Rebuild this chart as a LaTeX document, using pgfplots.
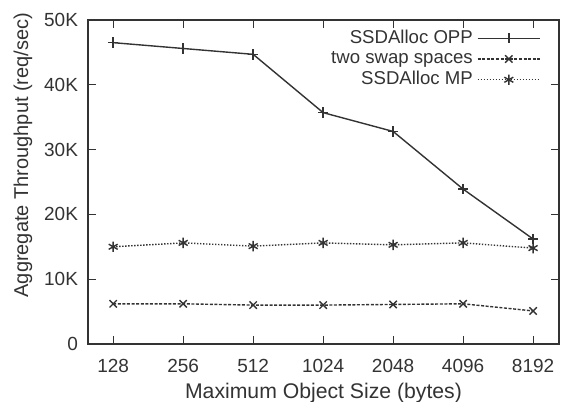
\documentclass[border=0pt]{standalone}
\usepackage{fontspec}
\setmainfont{Liberation Sans}
\usepackage{pgfplots}
\pgfplotsset{compat=1.18}
\definecolor{ink}{HTML}{333333}
\begin{document}
\begin{tikzpicture}
\begin{axis}[
    name=ax,
    scale only axis,
    width=235.5pt, height=162pt,
    xmin=-0.36, xmax=6.37,
    ymin=0, ymax=50000,
    xtick={0,1,2,3,4,5,6},
    xticklabels={128,256,512,1024,2048,4096,8192},
    ytick={0,10000,20000,30000,40000,50000},
    yticklabels={0,10K,20K,30K,40K,50K},
    scaled y ticks=false,
    tick align=inside,
    major tick length=4pt,
    tick style={ink, line width=0.5pt},
    axis line style={ink, line width=0.6pt},
    /pgf/number format/assume math mode=true,
    text=ink,
    tick label style={font=\fontsize{9.5}{10}\selectfont},
    xticklabel style={yshift=-4pt},
    yticklabel style={xshift=-1.5pt},
    xlabel={Maximum Object Size (bytes)},
    ylabel={Aggregate Throughput (req/sec)},
    xlabel style={font=\fontsize{10.6}{11}\selectfont, yshift=1.5pt},
    ylabel style={font=\fontsize{10}{11}\selectfont, at={(ticklabel cs:0.583)}, yshift=-1pt},
    legend style={draw=none, fill=none, at={(0.975,0.995)}, anchor=north east,
        font=\fontsize{9.3}{10}\selectfont, row sep=-1.5pt},
    legend cell align=right,
    legend plot pos=right,
    legend image code/.code={%
        \draw[mark repeat=2,mark phase=2,#1] plot coordinates {(0cm,0cm) (0.55cm,0cm) (1.1cm,0cm)};},
]
% SSDAlloc OPP
\addplot[ink, line width=0.7pt, mark=+, mark size=2.6pt, mark options={solid}]
    coordinates {(0,46500) (1,45600) (2,44700) (3,35700) (4,32800) (5,23900) (6,16200)};
\addlegendentry{SSDAlloc OPP}
% two swap spaces
\addplot[ink, line width=0.7pt, dash pattern=on 1.5pt off 0.8pt, mark=x, mark size=2.6pt, mark options={solid}]
    coordinates {(0,6200) (1,6200) (2,6000) (3,6000) (4,6100) (5,6200) (6,5100)};
\addlegendentry{two swap spaces}
% SSDAlloc MP
\addplot[ink, line width=0.7pt, dash pattern=on 0.7pt off 0.8pt, mark=asterisk, mark size=2.6pt, mark options={solid}]
    coordinates {(0,15000) (1,15600) (2,15100) (3,15600) (4,15300) (5,15600) (6,14800)};
\addlegendentry{SSDAlloc MP}
\end{axis}
\pgfresetboundingbox
\path[use as bounding box] ([xshift=-44pt,yshift=-29pt]ax.south west) rectangle ([xshift=3.5pt,yshift=10pt]ax.north east);
\end{tikzpicture}
\end{document}
